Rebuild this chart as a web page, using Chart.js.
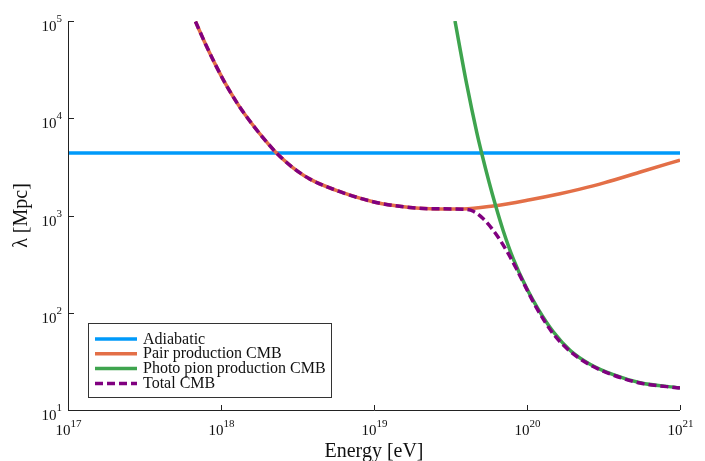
<!DOCTYPE html>
<html>
<head>
<meta charset="utf-8">
<script src="https://cdn.jsdelivr.net/npm/chart.js@4.4.0/dist/chart.umd.min.js"></script>
<style>
  html, body { margin: 0; padding: 0; background: #fff; }
  #wrap { width: 705px; height: 461px; position: relative; }
</style>
</head>
<body>
<div id="wrap"><canvas id="myChart" width="705" height="461"></canvas></div>
<script>
// values (energy in eV, lambda in Mpc)
const adiabaticE = [1e17, 1e21];
const adiabaticLambda = [4400, 4400];

const pairE = [6.81e17, 7.86e17, 9.14e17, 1.062e18, 1.291e18, 1.582e18, 1.94e18, 2.306e18, 2.89e18,
    3.816e18, 5.995e18, 1.015e19, 1.719e19, 2.323e19, 3.816e19, 5.995e19, 1.046e20, 1.643e20,
    2.221e20, 3.187e20, 5.644e20, 1e21];
const pairLambda = [98800, 59550, 36220, 23100, 13900, 8880, 5960, 4390, 3190,
    2367, 1757, 1370, 1209, 1175, 1167, 1252, 1454, 1676,
    1868, 2163, 2835, 3712];

const pionE = [3.383e19, 4.035e19, 4.691e19, 5.08e19, 5.671e19, 6.178e19, 7.0e19, 8.138e19, 9.954e19,
    1.186e20, 1.486e20, 1.91e20, 2.581e20, 3.665e20, 5.478e20, 1e21];
const pionLambda = [100000, 22400, 7190, 4240, 2158, 1329, 694, 358, 178,
    108.5, 63.7, 41.2, 29.6, 23.1, 19.1, 16.9];

const totalE = [6.81e17, 7.86e17, 9.14e17, 1.062e18, 1.291e18, 1.582e18, 1.94e18, 2.306e18, 2.89e18,
    3.816e18, 5.995e18, 1.015e19, 1.719e19, 2.323e19, 3.816e19, 4.457e19, 5.181e19, 6.021e19,
    6.661e19, 7.547e19, 8.562e19, 9.954e19, 1.157e20, 1.486e20, 1.91e20, 2.581e20, 3.665e20,
    5.478e20, 1e21];
const totalLambda = [98800, 59550, 36220, 23100, 13900, 8880, 5960, 4390, 3190,
    2367, 1757, 1370, 1209, 1175, 1161, 1105, 925, 704,
    560, 405, 280, 175, 111.4, 60.6, 40.2, 29.1, 22.85,
    18.96, 16.8];

const seriesNames = ['Adiabatic', 'Pair production CMB', 'Photo pion production CMB', 'Total CMB'];
const xTicks = [1e17, 1e18, 1e19, 1e20, 1e21];
const xTickExp = ['17', '18', '19', '20', '21'];
const yTicks = [1e1, 1e2, 1e3, 1e4, 1e5];
const yTickExp = ['1', '2', '3', '4', '5'];

const SERIF = '"Liberation Serif", "DejaVu Serif", serif';

function toPoints(xs, ys) {
    return xs.map((x, i) => ({ x: x, y: ys[i] }));
}

// axis lines, inward ticks, 10^n labels, axis titles, legend box
const frame = {
    id: 'frame',
    afterDatasetsDraw(chart) {
        const ctx = chart.ctx;
        const a = chart.chartArea;
        const xs = chart.scales.x, ys = chart.scales.y;
        ctx.save();
        ctx.strokeStyle = '#222';
        ctx.lineWidth = 1;
        ctx.beginPath();
        ctx.moveTo(a.left + 0.5, a.top);
        ctx.lineTo(a.left + 0.5, a.bottom + 0.5);
        ctx.lineTo(a.right, a.bottom + 0.5);
        ctx.stroke();

        ctx.fillStyle = '#111';
        ctx.textBaseline = 'alphabetic';
        xTicks.forEach((v, i) => {
            const px = Math.round(xs.getPixelForValue(v)) + 0.5;
            ctx.beginPath();
            ctx.moveTo(px, a.bottom);
            ctx.lineTo(px, a.bottom - 5);
            ctx.stroke();
            ctx.font = '15px ' + SERIF;
            const w1 = ctx.measureText('10').width;
            ctx.font = '11px ' + SERIF;
            const w2 = ctx.measureText(xTickExp[i]).width;
            const x0 = px - (w1 + w2) / 2;
            ctx.font = '15px ' + SERIF;
            ctx.textAlign = 'left';
            ctx.fillText('10', x0, a.bottom + 25);
            ctx.font = '11px ' + SERIF;
            ctx.fillText(xTickExp[i], x0 + w1, a.bottom + 17);
        });
        yTicks.forEach((v, i) => {
            const py = Math.round(ys.getPixelForValue(v)) + 0.5;
            ctx.beginPath();
            ctx.moveTo(a.left, py);
            ctx.lineTo(a.left + 6, py);
            ctx.stroke();
            ctx.font = '11px ' + SERIF;
            const w2 = ctx.measureText(yTickExp[i]).width;
            ctx.textAlign = 'right';
            ctx.fillText(yTickExp[i], a.left - 6, py);
            ctx.font = '15px ' + SERIF;
            ctx.fillText('10', a.left - 6 - w2, py + 9);
        });

        ctx.font = '20px ' + SERIF;
        ctx.textAlign = 'center';
        ctx.fillText('Energy [eV]', (a.left + a.right) / 2, 457);
        ctx.save();
        ctx.translate(27, (a.top + a.bottom) / 2);
        ctx.rotate(-Math.PI / 2);
        ctx.fillText('λ [Mpc]', 0, 0);
        ctx.restore();

        // legend
        const bx = 88.5, by = 323.5, bw = 243, bh = 74;
        ctx.fillStyle = '#fff';
        ctx.fillRect(bx, by, bw, bh);
        ctx.strokeStyle = '#333';
        ctx.strokeRect(bx, by, bw, bh);
        ctx.font = '16px ' + SERIF;
        ctx.textAlign = 'left';
        chart.data.datasets.forEach((ds, i) => {
            const ry = 339 + i * 14.8;
            ctx.strokeStyle = ds.borderColor;
            ctx.lineWidth = 3.5;
            ctx.setLineDash(ds.borderDash || []);
            ctx.beginPath();
            ctx.moveTo(95, ry);
            ctx.lineTo(137, ry);
            ctx.stroke();
            ctx.setLineDash([]);
            ctx.fillStyle = '#111';
            ctx.fillText(ds.label, 143, ry + 4.5);
        });
        ctx.restore();
    }
};

const ctx = document.getElementById('myChart').getContext('2d');
new Chart(ctx, {
    type: 'scatter',
    data: {
        datasets: [{
            label: seriesNames[0],
            data: toPoints(adiabaticE, adiabaticLambda),
            borderColor: '#009afa',
            order: 4
        }, {
            label: seriesNames[1],
            data: toPoints(pairE, pairLambda),
            borderColor: '#e36f47',
            order: 3
        }, {
            label: seriesNames[2],
            data: toPoints(pionE, pionLambda),
            borderColor: '#3ea44e',
            order: 2
        }, {
            label: seriesNames[3],
            data: toPoints(totalE, totalLambda),
            borderColor: '#800080',
            borderDash: [8, 4],
            order: 1
        }]
    },
    options: {
        responsive: false,
        animation: false,
        showLine: true,
        layout: { padding: { top: 21, right: 25, left: 0, bottom: 0 } },
        elements: {
            point: { radius: 0, hoverRadius: 0 },
            line: { borderWidth: 3.5, cubicInterpolationMode: 'monotone', fill: false }
        },
        plugins: {
            legend: { display: false },
            tooltip: { enabled: false }
        },
        scales: {
            x: {
                type: 'logarithmic',
                min: 1e17, max: 1e21,
                grid: { display: false },
                border: { display: false },
                ticks: { display: false },
                afterFit(scale) { scale.height = 51; }
            },
            y: {
                type: 'logarithmic',
                min: 10, max: 1e5,
                grid: { display: false },
                border: { display: false },
                ticks: { display: false },
                afterFit(scale) { scale.width = 68; }
            }
        }
    },
    plugins: [frame]
});
</script>
</body>
</html>
